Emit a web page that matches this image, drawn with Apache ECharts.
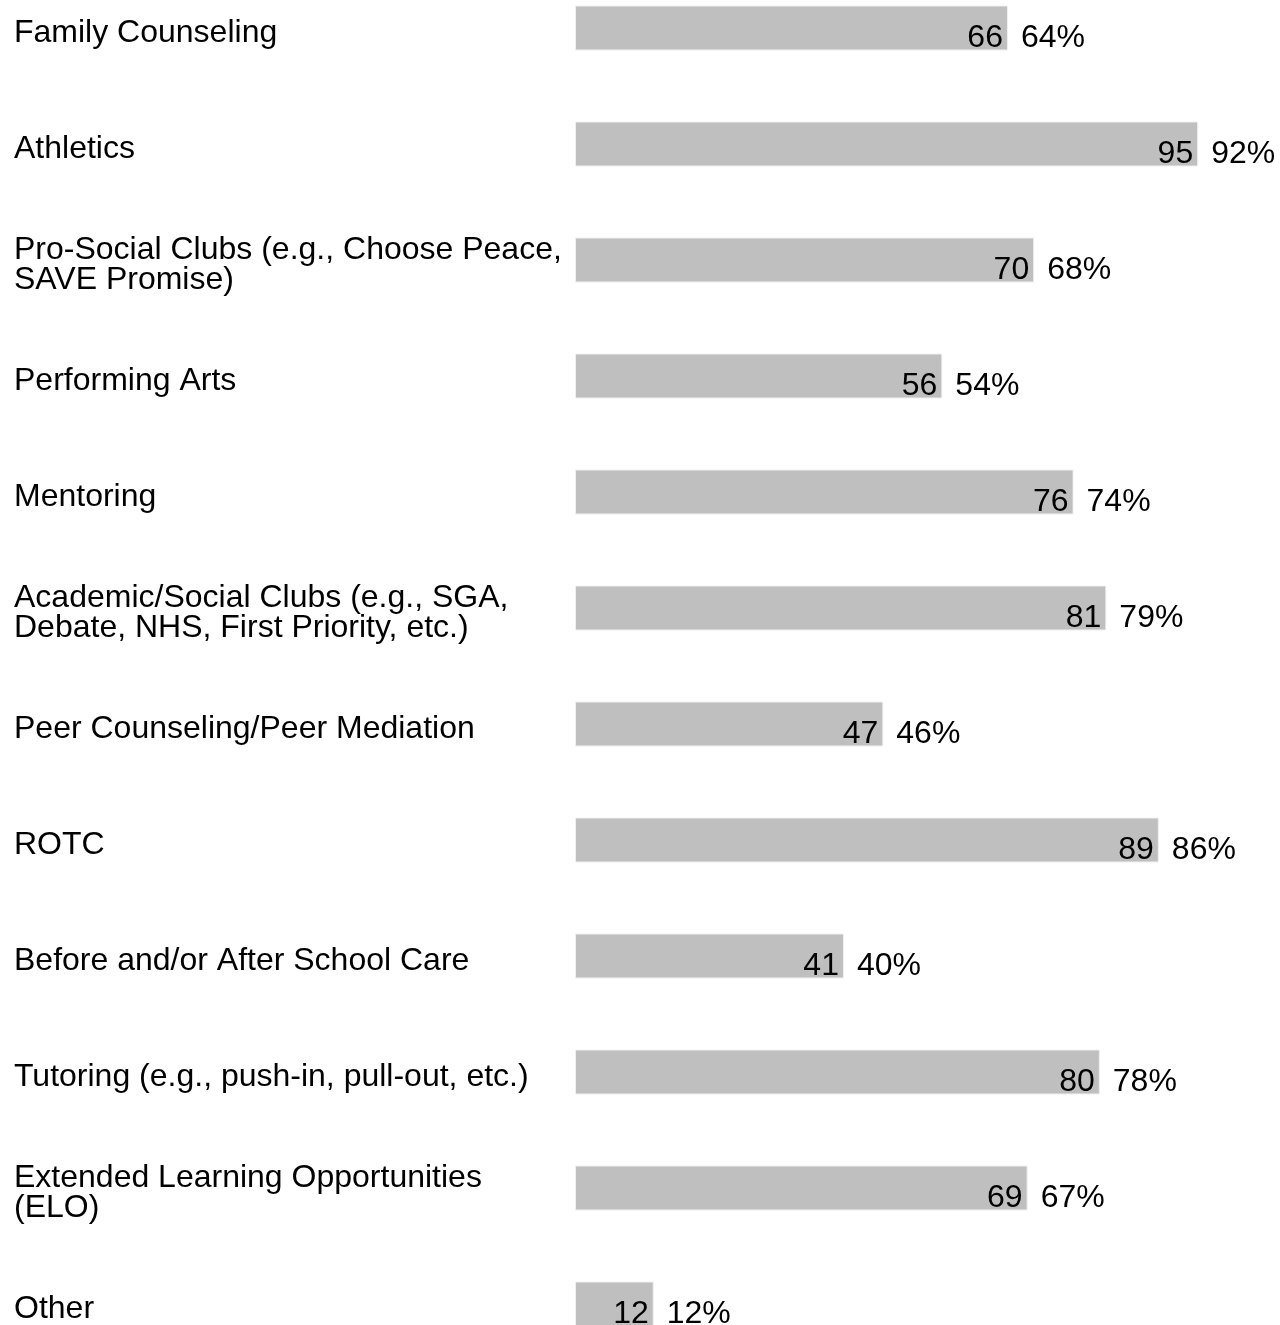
<!DOCTYPE html>
<html>
<head>
<meta charset="utf-8">
<script src="https://cdn.jsdelivr.net/npm/echarts@6/dist/echarts.min.js"></script>
<style>
html,body{margin:0;padding:0;background:#fff;}
#chart{width:1280px;height:1325px;}
</style>
</head>
<body>
<div id="chart"></div>
<script>
const categories = [
  'Family Counseling',
  'Athletics',
  'Pro-Social Clubs (e.g., Choose Peace,\nSAVE Promise)',
  'Performing Arts',
  'Mentoring',
  'Academic/Social Clubs (e.g., SGA,\nDebate, NHS, First Priority, etc.)',
  'Peer Counseling/Peer Mediation',
  'ROTC',
  'Before and/or After School Care',
  'Tutoring (e.g., push-in, pull-out, etc.)',
  'Extended Learning Opportunities\n(ELO)',
  'Other'
];
const counts = [66, 95, 70, 56, 76, 81, 47, 89, 41, 80, 69, 12];
const percents = [64, 92, 68, 54, 74, 79, 46, 86, 40, 78, 67, 12];

const FONT = "'Liberation Sans', Arial, Helvetica, sans-serif";
const chart = echarts.init(document.getElementById('chart'));
chart.setOption({
  animation: false,
  backgroundColor: '#ffffff',
  grid: [
    { left: 575, width: 656, top: 28, height: 1276, containLabel: false },
    { left: 575, width: 656, top: 33, height: 1276, containLabel: false }
  ],
  xAxis: [
    { gridIndex: 0, type: 'value', min: 0, max: 100, show: false },
    { gridIndex: 1, type: 'value', min: 0, max: 100, show: false }
  ],
  yAxis: [
    {
      gridIndex: 0,
      type: 'category',
      data: categories,
      inverse: true,
      boundaryGap: false,
      axisLine: { show: false },
      axisTick: { show: false },
      splitLine: { show: false },
      axisLabel: { show: false }
    },
    {
      gridIndex: 1,
      type: 'category',
      data: categories,
      inverse: true,
      boundaryGap: false,
      axisLine: { show: false },
      axisTick: { show: false },
      splitLine: { show: false },
      axisLabel: {
        align: 'left',
        margin: 561,
        fontSize: 32,
        lineHeight: 29.5,
        fontFamily: FONT,
        color: '#000000'
      }
    }
  ],
  series: [
    {
      type: 'bar',
      xAxisIndex: 0,
      yAxisIndex: 0,
      data: counts,
      barWidth: 45,
      itemStyle: { color: '#bfbfbf', borderColor: '#f0f0f0', borderWidth: 1 },
      label: {
        show: true,
        position: 'insideRight',
        distance: 5,
        offset: [0, 10],
        fontSize: 32,
        fontFamily: FONT,
        color: '#000000'
      },
      silent: true
    },
    {
      type: 'bar',
      xAxisIndex: 0,
      yAxisIndex: 0,
      data: counts,
      barWidth: 45,
      barGap: '-100%',
      itemStyle: { color: 'rgba(0,0,0,0)' },
      label: {
        show: true,
        position: 'right',
        distance: 13,
        offset: [0, 10],
        fontSize: 32,
        fontFamily: FONT,
        color: '#000000',
        formatter: p => percents[p.dataIndex] + '%'
      },
      silent: true
    }
  ]
});
</script>
</body>
</html>
